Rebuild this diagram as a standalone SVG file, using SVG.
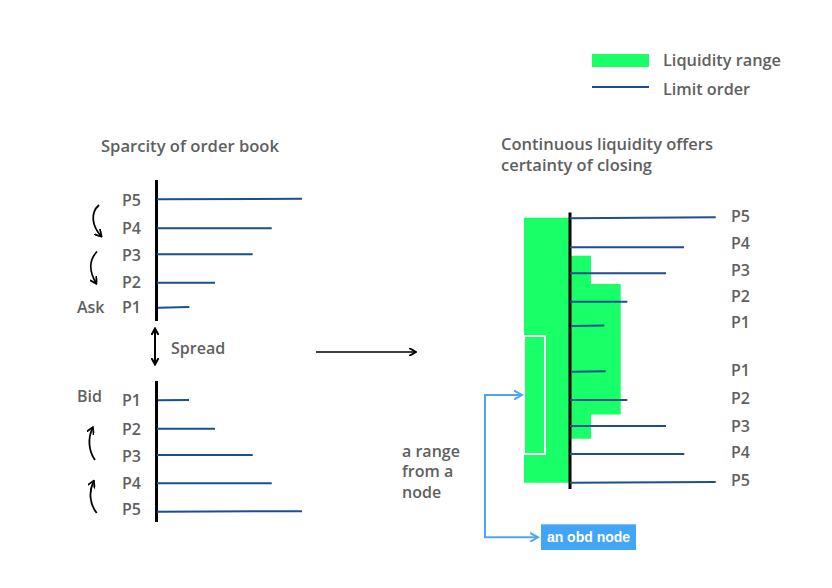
<svg xmlns="http://www.w3.org/2000/svg" width="832" height="588" viewBox="0 0 832 588">
<defs>
<style>
.t{font-family:"Open Sans","Noto Sans","Liberation Sans",sans-serif;font-size:16px;font-weight:600;fill:#5f5f5f}
.lo{stroke:#1c4f91;stroke-width:2;fill:none}
.ax{stroke:#000;stroke-width:3}
.cv{stroke:#000;stroke-width:1.8;fill:none}
.bl{stroke:#4da6f5;stroke-width:2;fill:none}
</style>
<marker id="ah" markerWidth="8" markerHeight="8" refX="6" refY="4" orient="auto" markerUnits="userSpaceOnUse">
<path d="M0,0 L7,4 L0,8" fill="none" stroke="#000" stroke-width="1.8"/>
</marker>
<marker id="ahs" markerWidth="8" markerHeight="8" refX="6" refY="4" orient="auto-start-reverse" markerUnits="userSpaceOnUse">
<path d="M0,0.5 L6.5,4 L0,7.5" fill="none" stroke="#000" stroke-width="2"/>
</marker>
<marker id="ahb" markerWidth="10" markerHeight="10" refX="8" refY="5" orient="auto-start-reverse" markerUnits="userSpaceOnUse">
<path d="M0,0.5 L8,5 L0,9.5" fill="none" stroke="#4da6f5" stroke-width="2"/>
</marker>
</defs>
<rect width="832" height="588" fill="#fff"/>

<g id="legend">
<rect x="592" y="54" width="57" height="13" fill="#19ff68"/>
<line x1="592" y1="87" x2="649" y2="87" class="lo"/>
<text x="663" y="66" class="t" textLength="118" lengthAdjust="spacingAndGlyphs">Liquidity range</text>
<text x="663" y="95" class="t" textLength="87" lengthAdjust="spacingAndGlyphs">Limit order</text>
</g>

<g id="left-book">
<text x="101" y="152" class="t" textLength="178" lengthAdjust="spacingAndGlyphs">Sparcity of order book</text>
<line x1="156.5" y1="180" x2="156.5" y2="321" class="ax"/>
<path class="lo" d="M157,199.3 L302,198.8 M157,228.3 L271.7,228.3 M157,254.3 L252.7,254.3 M157,282.7 L215,282.7 M158,307.7 L189.3,307"/>
<text x="122" y="206" class="t">P5</text>
<text x="122" y="234" class="t">P4</text>
<text x="122" y="261" class="t">P3</text>
<text x="122" y="288" class="t">P2</text>
<text x="122" y="313" class="t">P1</text>
<text x="77" y="313" class="t">Ask</text>
<text x="171" y="354" class="t">Spread</text>
<line x1="156.5" y1="381" x2="156.5" y2="522" class="ax"/>
<path class="lo" d="M158,400.3 L189,400 M157,428.7 L215,428.7 M157,455 L252.7,455 M157,483.3 L271.7,483.3 M157,511.7 L302,511.2"/>
<text x="77" y="401.5" class="t">Bid</text>
<text x="122" y="406" class="t">P1</text>
<text x="122" y="435" class="t">P2</text>
<text x="122" y="462" class="t">P3</text>
<text x="122" y="488.5" class="t">P4</text>
<text x="122" y="515" class="t">P5</text>
</g>

<g id="right-book">
<text x="501" y="150" class="t" textLength="212" lengthAdjust="spacingAndGlyphs">Continuous liquidity offers</text>
<text x="501" y="171" class="t" textLength="151" lengthAdjust="spacingAndGlyphs">certainty of closing</text>
<path d="M524,217.7 L570,217.7 L570,255.7 L591,255.7 L591,284 L620.7,284 L620.7,414.5 L591,414.5 L591,438.7 L570,438.7 L570,482.7 L524,482.7 Z" fill="#19ff68"/>
<rect x="524" y="336" width="21" height="118" fill="none" stroke="#fff" stroke-width="2"/>
<line x1="570" y1="212.5" x2="570" y2="489" class="ax"/>
<path class="lo" d="M570,218.3 L715.7,217.3 M570,247.3 L684,247.3 M570,273.3 L666,273.3 M570,301.7 L627.3,301.7 M572,326 L604.3,325.5 M572,371.7 L605.7,371.3 M570,400 L627.3,400 M570,426 L666,426 M570,454 L684.3,454 M570,482.7 L715.7,482"/>
<text x="731" y="221.5" class="t">P5</text>
<text x="731" y="249" class="t">P4</text>
<text x="731" y="275.5" class="t">P3</text>
<text x="731" y="302.3" class="t">P2</text>
<text x="731" y="327.7" class="t">P1</text>
<text x="731" y="375.5" class="t">P1</text>
<text x="731" y="404" class="t">P2</text>
<text x="731" y="432" class="t">P3</text>
<text x="731" y="457.7" class="t">P4</text>
<text x="731" y="486" class="t">P5</text>
<text x="402" y="456.7" class="t">a range</text>
<text x="402" y="477.3" class="t">from a</text>
<text x="402" y="498" class="t">node</text>
</g>

<g id="obd-node">
<rect x="541" y="524.3" width="95" height="25.7" fill="#42a5f5"/>
<text x="588.5" y="542" font-family="Liberation Sans,Arial,sans-serif" font-size="14" font-weight="bold" fill="#fff" text-anchor="middle">an obd node</text>
</g>

<g id="connectors">
<path class="cv" d="M99,205 C90,213 92,226 101,236" marker-end="url(#ah)"/>
<path class="cv" d="M97,251.5 C88,261 90,273 96,283" marker-end="url(#ah)"/>
<path class="cv" d="M95,460 C88,450 88,438 92.5,428" marker-end="url(#ah)"/>
<path class="cv" d="M96.7,513 C89,503 89,491 93.5,481.5" marker-end="url(#ah)"/>
<line x1="155" y1="329" x2="155" y2="364" stroke="#000" stroke-width="2" marker-start="url(#ahs)" marker-end="url(#ahs)"/>
<line x1="316" y1="352" x2="415" y2="352" stroke="#000" stroke-width="1.6" marker-end="url(#ah)"/>
<path class="bl" d="M522,395 L485,395 L485,537.3 L538,537.3" marker-start="url(#ahb)" marker-end="url(#ahb)"/>
</g>
</svg>
